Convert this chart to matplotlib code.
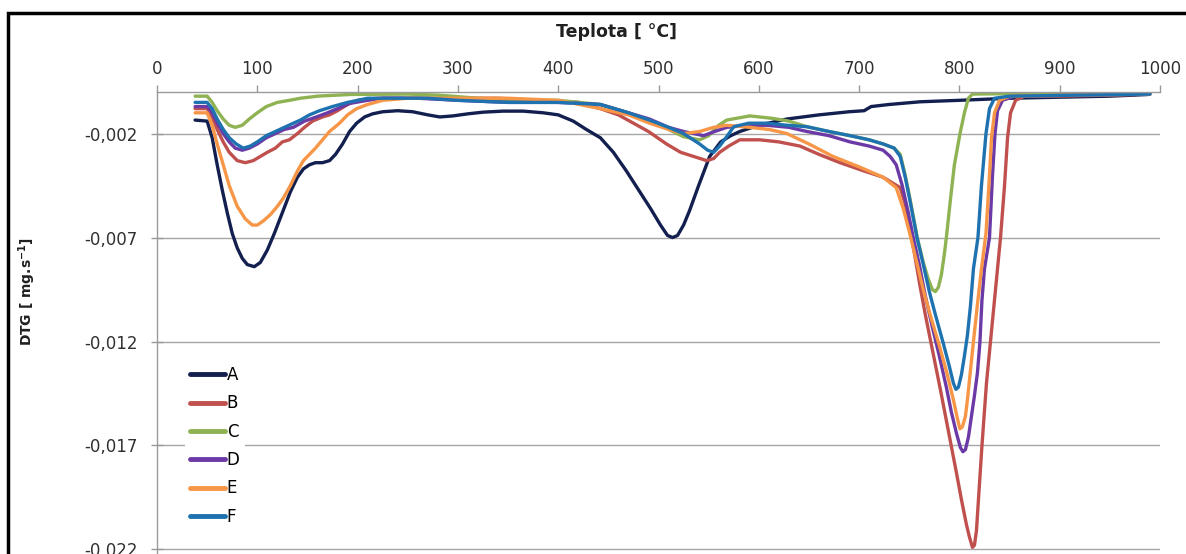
import matplotlib
matplotlib.use("Agg")
import matplotlib.pyplot as plt
from matplotlib.patches import Rectangle

plt.rcParams['font.family'] = ['DejaVu Sans']

series_names = ["A", "B", "C", "D", "E", "F"]
colors = ["#13204f", "#c0504d", "#8fb253", "#6b3aa6", "#f79646", "#1f72b0"]

t_A = [38, 50, 55, 60, 65, 70, 75, 80, 85, 90, 97, 103, 110, 117, 125, 133, 140, 146, 152, 158, 165, 172,
       178, 185, 192, 199, 207, 215, 225, 240, 255, 270, 282, 295, 310, 325, 345, 365, 385, 400, 415, 428,
       442, 455, 468, 480, 492, 502, 509, 514, 519, 525, 531, 540, 551, 562, 572, 581, 600, 628, 660, 690,
       705, 712, 730, 761, 800, 850, 900, 950, 988]
v_A = [-0.00135, -0.0014, -0.0022, -0.0035, -0.0047, -0.0058, -0.0068, -0.0075, -0.0080, -0.0083, -0.0084,
       -0.0082, -0.0076, -0.0068, -0.0058, -0.0048, -0.0041, -0.0037, -0.0035, -0.0034, -0.0034, -0.0033,
       -0.0030, -0.0025, -0.0019, -0.0015, -0.0012, -0.00105, -0.00095, -0.0009, -0.00095, -0.0011, -0.0012,
       -0.00115, -0.00105, -0.00097, -0.00092, -0.00092, -0.0010, -0.0011, -0.0014, -0.0018, -0.0022, -0.0029,
       -0.0038, -0.0047, -0.0056, -0.0064, -0.0069, -0.0070, -0.0069, -0.0064, -0.0057, -0.0045, -0.0031,
       -0.0024, -0.0021, -0.0019, -0.0016, -0.0013, -0.0011, -0.00095, -0.0009, -0.0007, -0.0006, -0.00047,
       -0.0004, -0.0003, -0.00025, -0.0002, -0.00012]

t_B = [38, 50, 55, 60, 66, 72, 80, 88, 96, 103, 110, 118, 125, 132, 140, 147, 155, 165, 172, 180, 190, 200,
       220, 260, 300, 340, 380, 420, 442, 460, 475, 490, 508, 522, 535, 548, 555, 561, 570, 581, 601, 620,
       641, 660, 681, 705, 724, 741, 746, 751, 756, 761, 766, 771, 781, 791, 797, 802, 807, 810, 813, 815,
       817, 819, 822.5, 827, 831, 835, 838, 841, 845, 848, 851, 856, 865, 900, 950, 990]
v_B = [-0.0008, -0.0008, -0.0012, -0.0018, -0.0024, -0.0029, -0.0033, -0.0034, -0.0033, -0.0031, -0.0029,
       -0.0027, -0.0024, -0.0023, -0.0020, -0.0017, -0.0014, -0.0012, -0.0011, -0.0009, -0.0006, -0.0004,
       -0.0003, -0.0003, -0.0003, -0.0003, -0.0004, -0.0005, -0.0008, -0.0011, -0.0015, -0.0019, -0.0025,
       -0.0029, -0.0031, -0.0033, -0.0032, -0.0029, -0.0026, -0.0023, -0.0023, -0.0024, -0.0026, -0.0030,
       -0.0034, -0.0038, -0.0041, -0.0046, -0.0054, -0.0066, -0.0080, -0.0094, -0.0107, -0.0119, -0.0143,
       -0.0168, -0.0183, -0.0196, -0.0208, -0.0214, -0.0219, -0.0218, -0.0211, -0.0196, -0.0170, -0.0140,
       -0.0120, -0.0100, -0.0085, -0.0070, -0.0045, -0.0022, -0.0010, -0.0004, -0.0002, -0.0002, -0.00015,
       -0.0001]

t_C = [38, 50, 55, 60, 66, 72, 78, 85, 92, 100, 109, 120, 132, 143, 160, 192, 250, 280, 320, 360, 400, 442,
       470, 491, 510, 525, 541, 550, 560, 568, 591, 614, 630, 648, 670, 691, 710, 724, 735, 741, 746, 751,
       758, 764, 769, 773, 776, 779, 782, 785, 787, 791, 795, 800.6, 805, 809, 813, 850, 990]
v_C = [-0.0002, -0.0002, -0.0005, -0.0009, -0.0013, -0.0016, -0.0017, -0.0016, -0.0013, -0.0010, -0.0007,
       -0.0005, -0.0004, -0.0003, -0.0002, -0.00012, -0.0001, -0.00015, -0.0003, -0.0004, -0.0004, -0.0006,
       -0.0010, -0.0014, -0.0018, -0.00215, -0.0023, -0.0021, -0.0016, -0.00135, -0.00115, -0.00127, -0.0014,
       -0.00167, -0.0019, -0.0021, -0.0023, -0.0025, -0.0027, -0.0030, -0.0040, -0.0052, -0.0070, -0.0082,
       -0.0090, -0.0095, -0.0096, -0.0094, -0.0088, -0.0078, -0.0070, -0.0052, -0.0035, -0.0020, -0.0010,
       -0.0003, -0.0001, -0.00008, -0.00008]

t_D = [38, 50, 55, 60, 66, 72, 78, 85, 92, 100, 109, 118, 127, 136, 147, 159, 170, 180, 192, 210, 225, 260,
       300, 350, 400, 442, 470, 491, 510, 525, 545, 556, 568, 590, 608, 630, 648, 670, 691, 710, 724, 731,
       737, 743, 749, 754, 760, 766, 773, 780, 787, 792, 797, 801, 803.5, 806, 809, 812, 815, 818, 820.5,
       822.5, 825, 830, 833, 835.5, 838, 843, 855, 990]
v_D = [-0.0007, -0.0007, -0.0010, -0.0015, -0.0020, -0.0024, -0.0027, -0.0028, -0.0027, -0.0025, -0.0022,
       -0.0020, -0.0018, -0.0017, -0.0014, -0.0012, -0.0010, -0.0008, -0.00055, -0.0004, -0.0003, -0.0003,
       -0.0004, -0.0005, -0.0005, -0.0006, -0.0010, -0.0013, -0.0017, -0.0019, -0.0021, -0.0019, -0.0017,
       -0.0016, -0.0016, -0.0017, -0.0019, -0.0021, -0.0024, -0.0026, -0.0028, -0.0031, -0.0035, -0.0045,
       -0.0058, -0.0070, -0.0083, -0.0098, -0.0113, -0.0127, -0.0142, -0.0154, -0.0164, -0.0171, -0.0173,
       -0.0172, -0.0166, -0.0156, -0.0146, -0.0135, -0.0120, -0.0100, -0.0085, -0.0070, -0.0040, -0.0020,
       -0.0009, -0.0004, -0.0002, -0.0001]

t_E = [38, 50, 55, 60, 66, 72, 80, 88, 95, 100, 106, 113, 120, 126, 133, 140, 146, 152, 158, 165, 172, 182,
       190, 199, 210, 225, 250, 300, 350, 400, 442, 470, 491, 510, 525, 541, 555, 568, 591, 610, 628, 650,
       674, 700, 724, 737, 744, 751, 758, 765, 772, 780, 788, 794, 798, 800.5, 803, 806, 808, 811, 814, 818,
       822, 826.5, 830, 832, 835, 840, 850, 990]
v_E = [-0.0010, -0.0010, -0.0016, -0.0025, -0.0035, -0.0045, -0.0055, -0.0061, -0.0064, -0.0064, -0.0062,
       -0.0059, -0.0055, -0.0051, -0.0045, -0.0038, -0.0033, -0.0030, -0.0027, -0.0023, -0.0019, -0.0015,
       -0.0011, -0.0008, -0.0006, -0.0004, -0.0003, -0.0003, -0.0003, -0.0004, -0.0008, -0.0011, -0.0015,
       -0.0018, -0.0020, -0.0019, -0.0017, -0.0016, -0.0017, -0.0018, -0.0020, -0.0025, -0.0031, -0.0036,
       -0.0041, -0.0046, -0.0056, -0.0069, -0.0083, -0.0097, -0.0109, -0.0122, -0.0136, -0.0148, -0.0157,
       -0.0162, -0.0161, -0.0156, -0.0148, -0.0134, -0.0120, -0.0102, -0.0085, -0.0068, -0.0040, -0.0022,
       -0.0010, -0.0004, -0.0002, -0.0001]

t_F = [38, 50, 55, 60, 66, 72, 79, 86, 93, 100, 109, 118, 127, 136, 143, 152, 162, 175, 190, 210, 240, 270,
       300, 350, 400, 442, 470, 491, 510, 525, 541, 549, 555, 561, 568, 575, 590, 608, 628, 648, 670, 691,
       710, 724, 735, 741, 746, 751, 757.7, 764, 770, 776, 784, 790, 794, 796.5, 799, 802, 805, 808, 811,
       814, 818.5, 822, 826.5, 830, 835, 850, 990]
v_F = [-0.0005, -0.0005, -0.0008, -0.0013, -0.0018, -0.0022, -0.0025, -0.0027, -0.0026, -0.0024, -0.0021,
       -0.0019, -0.0017, -0.0015, -0.00135, -0.0011, -0.0009, -0.0007, -0.0005, -0.0003, -0.0003, -0.0003,
       -0.0004, -0.0005, -0.0005, -0.0006, -0.0010, -0.00135, -0.0017, -0.0020, -0.0025, -0.0028, -0.0029,
       -0.0026, -0.00215, -0.00167, -0.0015, -0.0015, -0.0016, -0.00167, -0.0019, -0.0021, -0.0023, -0.0025,
       -0.0027, -0.0031, -0.0041, -0.0053, -0.0070, -0.0083, -0.0096, -0.0107, -0.0121, -0.0132, -0.0140,
       -0.0143, -0.0142, -0.0136, -0.0127, -0.0117, -0.0103, -0.0085, -0.0070, -0.0045, -0.0020, -0.0008,
       -0.0003, -0.0002, -0.0001]

x_ticks = [0, 100, 200, 300, 400, 500, 600, 700, 800, 900, 1000]
y_ticks = [-0.002, -0.007, -0.012, -0.017, -0.022]
y_tick_labels = ["-0,002", "-0,007", "-0,012", "-0,017", "-0,022"]

W, H = 1186, 554
fig = plt.figure(figsize=(W / 100, H / 100), dpi=100)
ax = fig.add_axes([157 / W, 0.0, (1160 - 157) / W, (554 - 92) / H])

data = [(t_A, v_A), (t_B, v_B), (t_C, v_C), (t_D, v_D), (t_E, v_E), (t_F, v_F)]
for name, (t, v), c in zip(series_names, data, colors):
    ax.plot(t, v, color=c, lw=2.4, label=name, solid_joinstyle='round', solid_capstyle='round')

ax.set_xlim(0, 1000)
ax.set_ylim(-0.02222, 0)
ax.xaxis.tick_top()
ax.set_xticks(x_ticks)
ax.set_xticklabels([str(x) for x in x_ticks])
ax.set_yticks(y_ticks)
ax.set_yticklabels(y_tick_labels)
ax.tick_params(axis='x', direction='out', length=5, width=1, color='#9a9a9a', pad=5,
               labelsize=12, labelcolor='#303030')
ax.tick_params(axis='y', direction='inout', length=8, width=1, color='#9a9a9a', pad=10,
               labelsize=12, labelcolor='#303030')
ax.grid(axis='y', color='#a6a6a6', lw=1)
ax.set_axisbelow(True)
for s in ['right', 'bottom']:
    ax.spines[s].set_visible(False)
for s in ['left', 'top']:
    ax.spines[s].set_color('#9a9a9a')
    ax.spines[s].set_linewidth(1)

fig.text(617 / W, 1 - 32 / H, "Teplota [ °C]", ha='center', va='center', fontsize=12.5,
         fontweight='bold', color='#202020')
fig.text(27 / W, 1 - 292 / H, "DTG [ mg.s$^{\\mathregular{-1}}$]", ha='center', va='center',
         rotation=90, fontsize=10, fontweight='bold', color='#202020')

leg = ax.legend(loc='upper left', bbox_to_anchor=(185 / W, 1 - 361 / H), bbox_transform=fig.transFigure,
                frameon=True, fontsize=12, handlelength=2.1, handletextpad=0.1, labelspacing=0.62,
                borderpad=0.3, borderaxespad=0)
leg.get_frame().set_facecolor('white')
leg.get_frame().set_edgecolor('none')
leg.get_frame().set_alpha(1)
for line in leg.get_lines():
    line.set_linewidth(3.5)

fig.patches.append(Rectangle((8 / W, -0.1), 1.2, 1 - 13 / H + 0.1, transform=fig.transFigure,
                             fill=False, edgecolor='black', lw=2.5, zorder=10))

fig.savefig("out.png", dpi=100, facecolor='white')
